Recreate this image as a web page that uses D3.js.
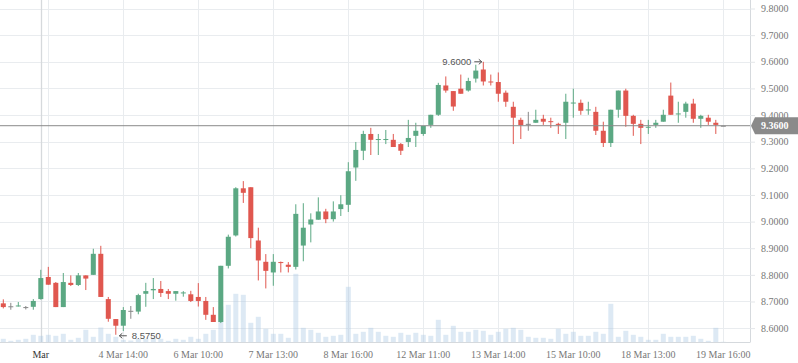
<!DOCTYPE html>
<html><head><meta charset="utf-8">
<script src="https://cdn.jsdelivr.net/npm/d3@7"></script>
<style>html,body{margin:0;padding:0;background:#fff;}svg{display:block;}</style>
</head><body>
<script>
const opens  = [8.693,8.682,8.682,8.679,8.680,8.709,8.792,8.770,8.679,8.770,8.762,8.798,8.800,8.879,8.709,8.634,8.609,8.665,8.662,8.729,8.742,8.747,8.739,8.729,8.732,8.727,8.717,8.702,8.650,8.623,8.834,8.948,9.125,9.129,8.929,8.849,8.809,8.848,8.838,8.830,8.910,8.989,9.007,9.038,9.009,9.047,9.063,9.203,9.266,9.329,9.308,9.308,9.307,9.291,9.299,9.322,9.329,9.363,9.401,9.511,9.490,9.499,9.492,9.537,9.571,9.526,9.524,9.484,9.431,9.382,9.367,9.371,9.386,9.377,9.367,9.371,9.445,9.446,9.419,9.412,9.341,9.295,9.420,9.492,9.397,9.367,9.354,9.363,9.375,9.473,9.403,9.412,9.443,9.386,9.390,9.371,9.360];
const highs  = [8.708,8.695,8.698,8.683,8.709,8.819,8.830,8.773,8.807,8.798,8.807,8.798,8.898,8.909,8.717,8.634,8.679,8.683,8.729,8.770,8.788,8.777,8.747,8.739,8.739,8.740,8.769,8.717,8.679,8.834,8.951,9.129,9.152,9.129,8.977,8.878,8.878,8.850,8.848,9.065,9.069,9.031,9.091,9.048,9.076,9.099,9.223,9.299,9.341,9.352,9.329,9.344,9.329,9.295,9.382,9.371,9.359,9.401,9.521,9.545,9.490,9.552,9.540,9.589,9.600,9.552,9.560,9.492,9.450,9.390,9.412,9.420,9.401,9.390,9.371,9.480,9.499,9.458,9.450,9.431,9.375,9.420,9.492,9.499,9.401,9.382,9.382,9.382,9.420,9.522,9.450,9.450,9.461,9.401,9.401,9.382,9.360];
const lows   = [8.674,8.669,8.681,8.670,8.669,8.707,8.763,8.679,8.679,8.758,8.758,8.743,8.800,8.717,8.624,8.575,8.589,8.635,8.652,8.680,8.709,8.717,8.709,8.703,8.718,8.698,8.681,8.631,8.623,8.619,8.824,8.944,9.070,8.900,8.779,8.749,8.759,8.809,8.809,8.820,8.851,8.922,9.007,8.994,9.000,9.021,9.036,9.153,9.231,9.250,9.250,9.291,9.280,9.250,9.280,9.280,9.322,9.352,9.397,9.484,9.416,9.480,9.488,9.522,9.511,9.511,9.450,9.431,9.291,9.310,9.341,9.371,9.363,9.352,9.329,9.310,9.390,9.401,9.401,9.325,9.280,9.280,9.390,9.356,9.322,9.291,9.329,9.352,9.375,9.401,9.371,9.390,9.371,9.352,9.363,9.329,9.360];
const closes = [8.679,8.682,8.685,8.679,8.702,8.788,8.763,8.679,8.773,8.762,8.798,8.786,8.879,8.717,8.635,8.609,8.668,8.665,8.724,8.739,8.747,8.732,8.729,8.739,8.734,8.702,8.702,8.650,8.623,8.834,8.943,9.125,9.108,8.938,8.854,8.815,8.849,8.845,8.830,9.029,8.977,9.008,9.038,9.009,9.038,9.065,9.189,9.269,9.329,9.307,9.310,9.310,9.280,9.266,9.314,9.341,9.359,9.401,9.513,9.492,9.432,9.480,9.528,9.567,9.526,9.524,9.480,9.450,9.390,9.362,9.367,9.382,9.375,9.374,9.363,9.450,9.447,9.416,9.421,9.341,9.295,9.420,9.492,9.397,9.367,9.352,9.356,9.371,9.401,9.401,9.406,9.443,9.386,9.397,9.375,9.363,9.360];
const volumes = [37,17,27,37,77,67,77,67,87,27,47,127,57,150,87,57,27,20,37,37,47,37,17,37,27,57,37,87,127,360,377,487,477,197,257,137,87,87,47,687,147,127,97,57,67,77,557,87,107,147,107,67,57,97,77,97,77,67,227,77,167,107,107,127,117,77,107,137,147,127,57,47,47,37,137,87,107,67,67,107,87,387,57,117,77,57,27,27,87,57,57,57,67,37,17,147,7];
const categories = d3.range(opens.length);
const xTickIdx = [5,16,26,36,46,56,66,76,86,96];
const xTickLabels = ["Mar","4 Mar 14:00","6 Mar 10:00","7 Mar 13:00","8 Mar 16:00","12 Mar 11:00","13 Mar 14:00","15 Mar 10:00","18 Mar 13:00","19 Mar 16:00"];
const xGridIdx = [6,16,26,36,46,56,66,76,86,96];
const yTicks = [8.6,8.7,8.8,8.9,9.0,9.1,9.2,9.3,9.4,9.5,9.6,9.7,9.8];
const lastPrice = 9.36;
const maxAnno = {idx:64, value:9.6};
const minAnno = {idx:15, value:8.575};

const W=798,H=363, plotR=750, plotB=342.5;
const GREEN="#5ba883", RED="#e0574f", GRAY="#888";

const svg=d3.select("body").append("svg").attr("width",W).attr("height",H);
const x=d3.scaleBand().domain(categories).range([-0.45,727.05]).paddingInner(0.33).paddingOuter(0.165);
const cx=i=>x(i)+x.bandwidth()/2;
const y=d3.scaleLinear().domain([8.546,9.832]).range([plotB,0]);
const yv=d3.scaleLinear().domain([0,1000]).range([plotB,plotB-100]);

// grid
const g=svg.append("g");
g.selectAll(".hg").data(yTicks).join("line")
 .attr("x1",0).attr("x2",plotR).attr("y1",d=>Math.round(y(d))+0.5).attr("y2",d=>Math.round(y(d))+0.5)
 .attr("stroke","#e9ecef").attr("stroke-width",1);
g.selectAll(".vg").data(xGridIdx).join("line")
 .attr("x1",d=>Math.round(cx(d))+0.5).attr("x2",d=>Math.round(cx(d))+0.5).attr("y1",0).attr("y2",plotB)
 .attr("stroke","#e9ecef").attr("stroke-width",1);
// month line
g.append("line").attr("x1",Math.round(cx(xTickIdx[0]))+0.5).attr("x2",Math.round(cx(xTickIdx[0]))+0.5)
 .attr("y1",0).attr("y2",plotB).attr("stroke","#d6d9dc").attr("stroke-width",1.3);

// volume
svg.append("g").selectAll("rect").data(categories).join("rect")
 .attr("x",i=>x(i)).attr("width",x.bandwidth())
 .attr("y",i=>yv(volumes[i])).attr("height",i=>plotB-yv(volumes[i]))
 .attr("fill","rgba(170,199,228,0.4)");

// axes lines
svg.append("line").attr("x1",0).attr("x2",plotR).attr("y1",plotB).attr("y2",plotB).attr("stroke","#d5d9dd");
svg.append("line").attr("x1",plotR+0.5).attr("x2",plotR+0.5).attr("y1",0).attr("y2",plotB).attr("stroke","#d5d9dd");

// y axis
const ya=svg.append("g").attr("transform",`translate(${plotR},0)`)
 .call(d3.axisRight(y).tickValues(yTicks).tickFormat(d3.format(".4f")).tickSize(5).tickPadding(6));
ya.select(".domain").remove();
ya.selectAll(".tick line").attr("stroke","#e3e6e9");
ya.selectAll("text").attr("fill","#777").style("font-family","'Liberation Serif',serif").style("font-size","10px");

// x axis
const xa=svg.append("g").attr("transform",`translate(0,${plotB})`)
 .call(d3.axisBottom(x).tickValues(xTickIdx).tickFormat((d,k)=>xTickLabels[k]).tickSize(0).tickPadding(8));
xa.select(".domain").remove();
xa.selectAll("text").attr("fill",(d,k)=>k===0?"#333":"#777").style("font-family","'Liberation Serif',serif").style("font-size","10px");

// candles
const colorOf=i=>closes[i]>opens[i]?GREEN:(closes[i]<opens[i]?RED:GRAY);
const c=svg.append("g");
c.selectAll("line").data(categories).join("line")
 .attr("x1",cx).attr("x2",cx).attr("y1",i=>y(highs[i])).attr("y2",i=>y(lows[i]))
 .attr("stroke",colorOf).attr("stroke-width",1);
c.selectAll("rect").data(categories).join("rect")
 .attr("x",i=>x(i)).attr("width",x.bandwidth())
 .attr("y",i=>Math.min(y(opens[i]),y(closes[i])))
 .attr("height",i=>Math.max(1,Math.abs(y(opens[i])-y(closes[i]))))
 .attr("fill",colorOf);

// last price line + label
const yl=y(lastPrice);
svg.append("line").attr("x1",0).attr("x2",plotR).attr("y1",yl).attr("y2",yl).attr("stroke","#8a8a8a").attr("stroke-width",1);
svg.append("path").attr("d",`M${plotR+1},${yl} L${plotR+5},${yl-8.5} L${W},${yl-8.5} L${W},${yl+8.5} L${plotR+5},${yl+8.5} Z`)
 .attr("fill","#8a8a8a");
svg.append("text").attr("x",761).attr("y",yl+3.6).text(d3.format(".4f")(lastPrice))
 .attr("fill","#fff").style("font-family","'Liberation Serif',serif").style("font-size","10px").style("font-weight","bold");

// annotations
const annoFont="'Liberation Sans',sans-serif";
function arrow(x1,x2,yy){
  const dir=Math.sign(x2-x1);
  svg.append("path").attr("d",`M${x1},${yy} L${x2},${yy} M${x2-3*dir},${yy-2.5} L${x2},${yy} L${x2-3*dir},${yy+2.5}`)
   .attr("fill","none").attr("stroke","#555").attr("stroke-width",1);
}
const mx=cx(maxAnno.idx), my=y(maxAnno.value);
arrow(mx-9,mx-1.5,my);
svg.append("text").attr("x",mx-12).attr("y",my+3.5).attr("text-anchor","end").text(d3.format(".4f")(maxAnno.value))
 .attr("fill","#555").style("font-family",annoFont).style("font-size","9.5px");
const nx=cx(minAnno.idx), ny=y(minAnno.value);
arrow(nx+11,nx+3.5,ny+1);
svg.append("text").attr("x",nx+16).attr("y",ny+4.5).text(d3.format(".4f")(minAnno.value))
 .attr("fill","#555").style("font-family",annoFont).style("font-size","9.5px");
</script>
</body></html>
